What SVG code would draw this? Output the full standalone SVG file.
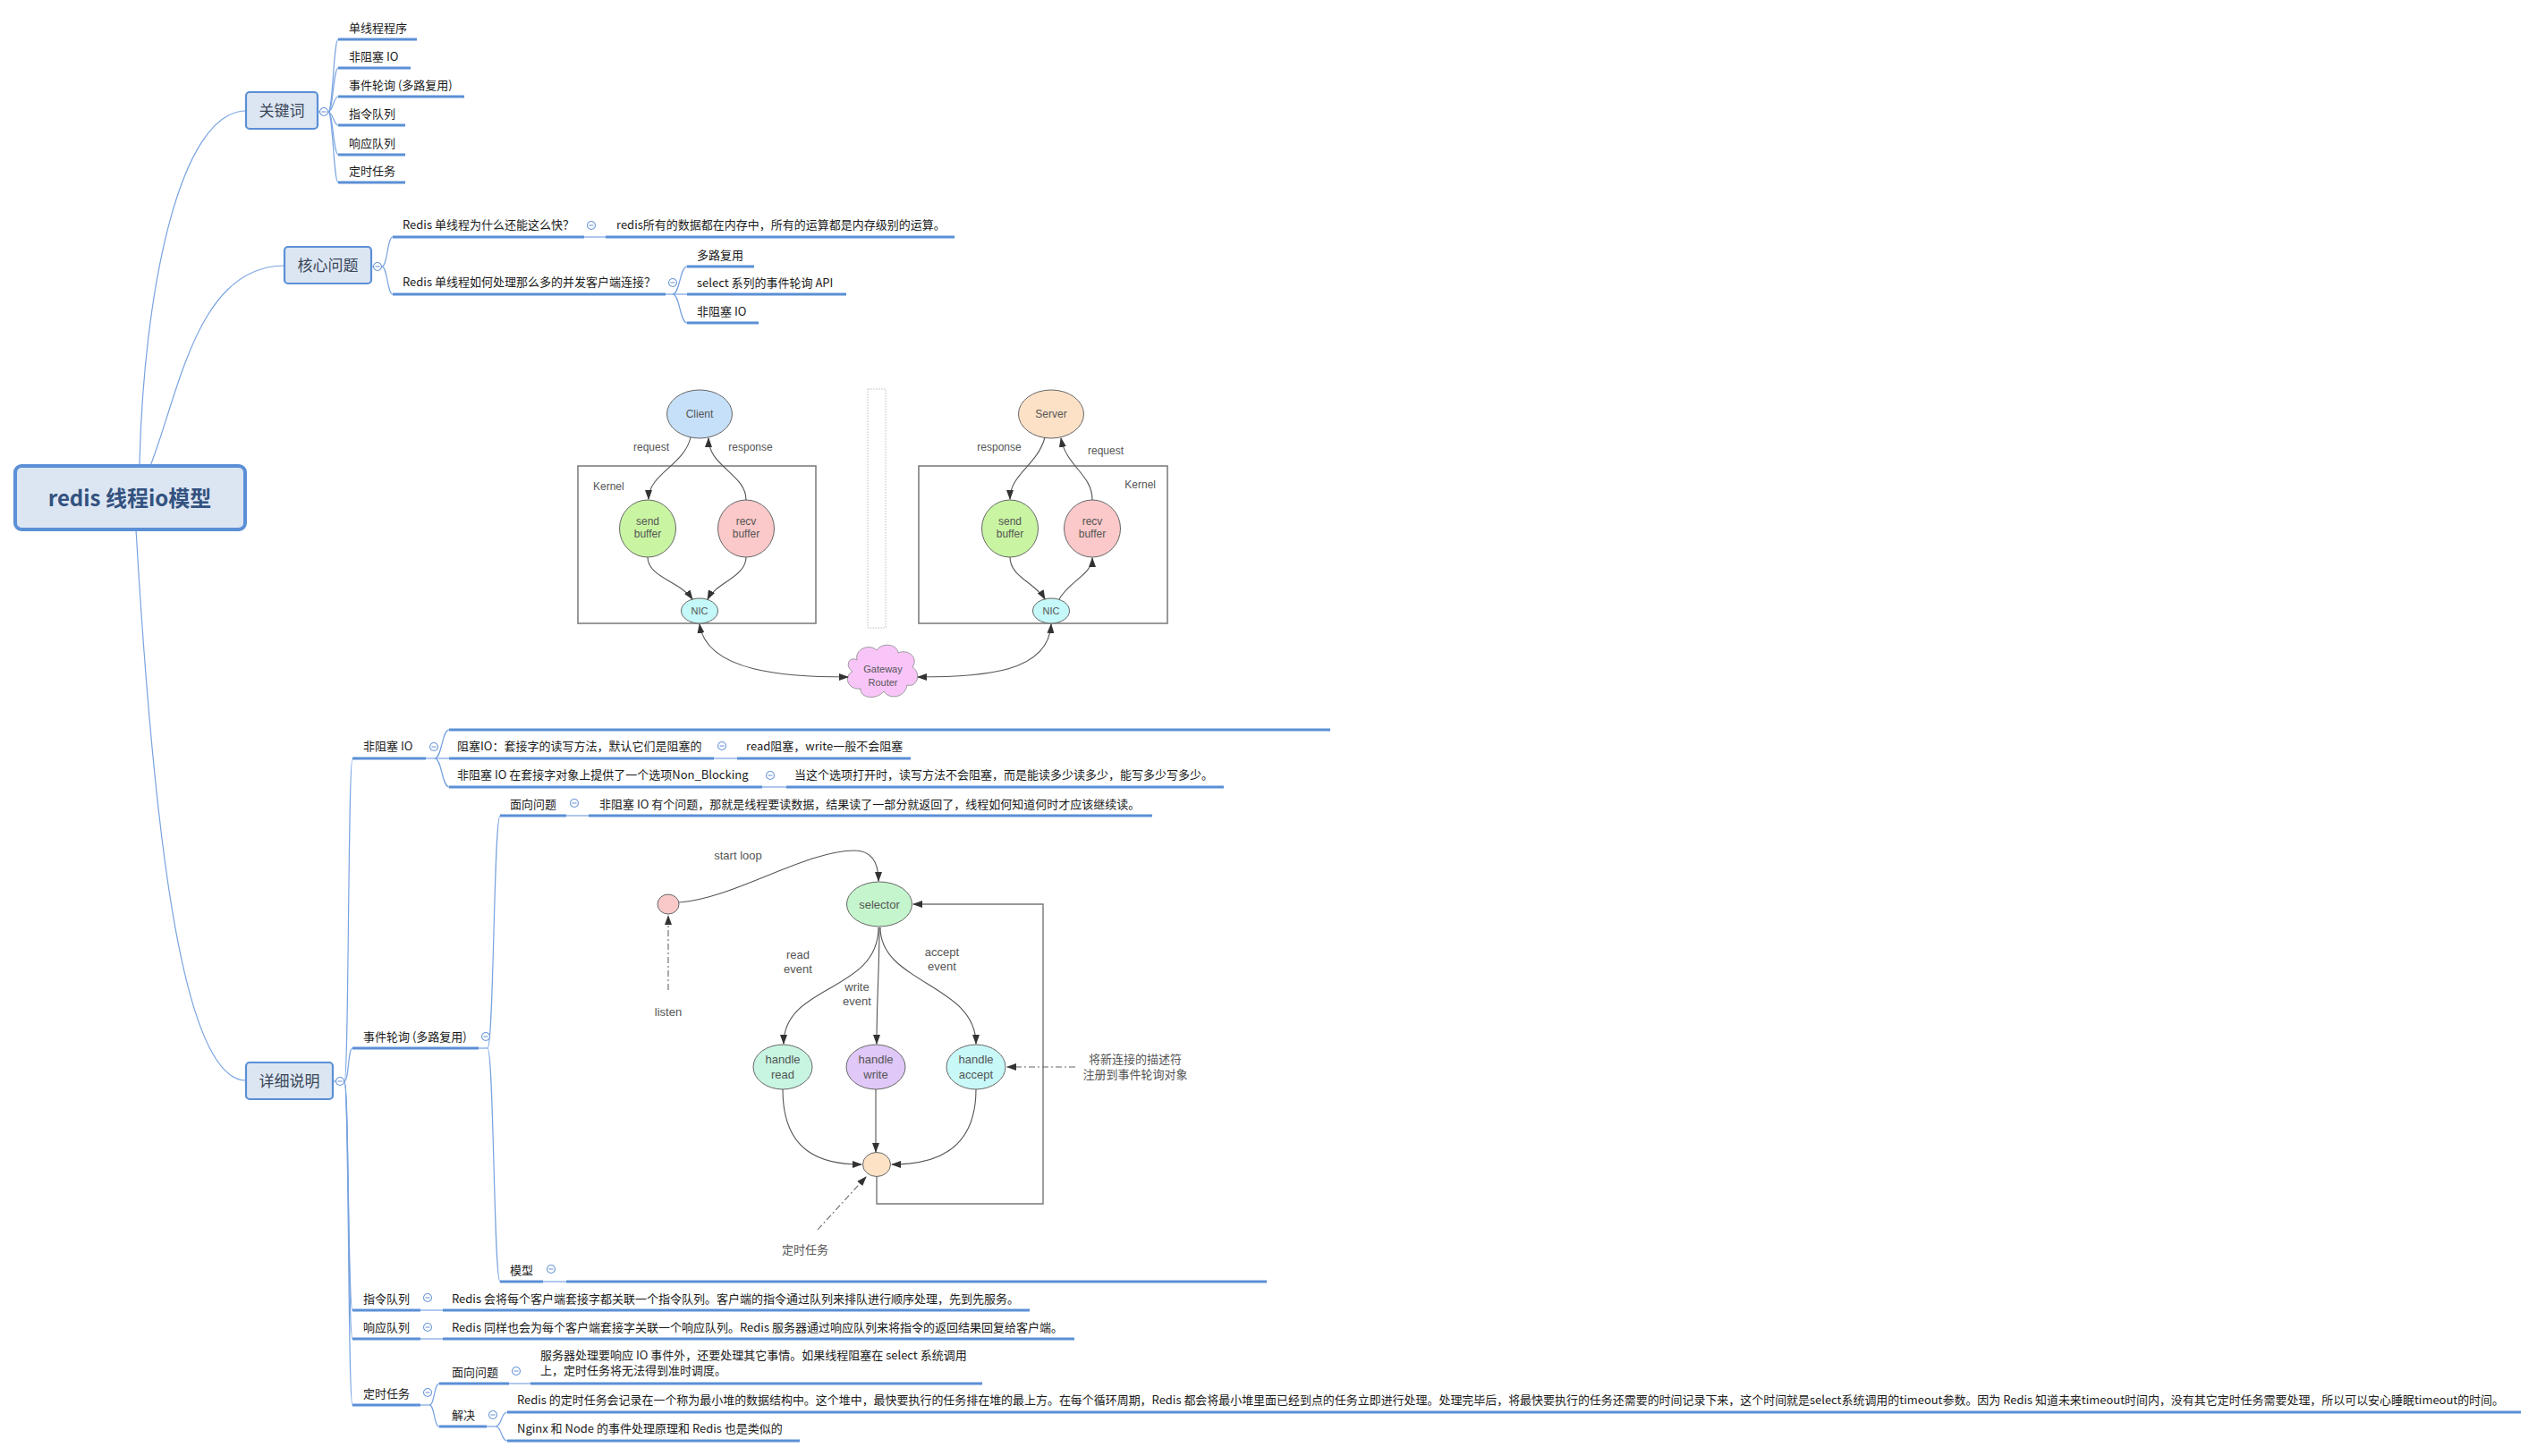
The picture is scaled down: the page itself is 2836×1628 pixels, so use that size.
<svg xmlns="http://www.w3.org/2000/svg" xmlns:xlink="http://www.w3.org/1999/xlink" width="2836" height="1628" viewBox="0 0 2836 1628">
<defs>
<style>
.ul{stroke:#5b8fd6;stroke-width:3;fill:none}
.cn{stroke:#78a3e0;stroke-width:1.2;fill:none}
.t{font-family:"Noto Sans CJK SC","Liberation Sans",sans-serif;font-size:13px;fill:#1a1a1a}
.box{fill:#dce6f3;stroke:#5b8fd6;stroke-width:2.2}
.bt{font-family:"Noto Sans CJK SC","Liberation Sans",sans-serif;font-size:17px;fill:#3a4658;text-anchor:middle}
.dg{stroke:#555;fill:none;stroke-width:1.1}
.sh{stroke:#666;stroke-width:1}
.dl{font-family:"Liberation Sans","Noto Sans CJK SC",sans-serif;font-size:12px;fill:#555;text-anchor:middle}
.dl13{font-family:"Liberation Sans","Noto Sans CJK SC",sans-serif;font-size:13px;fill:#555;text-anchor:middle}
.kb{fill:none;stroke:#777;stroke-width:1.5}
.dd{stroke:#666;fill:none;stroke-width:1.1;stroke-dasharray:7 3 2 3}
</style>
<g id="col"><circle r="4.5" fill="#fff" stroke="#6f9ad8" stroke-width="1.1"/><line x1="-2.5" y1="0" x2="2.5" y2="0" stroke="#6f9ad8" stroke-width="1.1"/></g>
<marker id="ar" markerUnits="userSpaceOnUse" markerWidth="11" markerHeight="8" refX="10" refY="4" orient="auto-start-reverse"><path d="M0,0 L11,4 L0,8 Z" fill="#333"/></marker>
</defs>
<rect width="2836" height="1628" fill="#fff"/>

<g id="connectors">
<path class="cn" d="M156,521 C160,330 200,124 275,124"/>
<path class="cn" d="M168,521 C200,440 220,297 318,297"/>
<path class="cn" d="M152,592 C170,900 200,1208 275,1208"/>
<path class="cn" d="M355,125 L367,125"/>
<path class="cn" d="M367,125 C372,125 373,44 378,44"/>
<path class="cn" d="M367,125 C372,125 373,76 378,76"/>
<path class="cn" d="M367,125 C372,125 373,108 378,108"/>
<path class="cn" d="M367,125 C372,125 373,140 378,140"/>
<path class="cn" d="M367,125 C372,125 373,173 378,173"/>
<path class="cn" d="M367,125 C372,125 373,204 378,204"/>
<path class="cn" d="M415,298 L427,298"/>
<path class="cn" d="M427,298 C433,298 433,265 439,265"/>
<path class="cn" d="M427,298 C433,298 433,329 439,329"/>
<path class="cn" d="M653,265 L677,265"/>
<path class="cn" d="M744,329 L768,329"/>
<path class="cn" d="M752,329 C760,329 760,298 768,298"/>
<path class="cn" d="M752,329 C760,329 760,361 768,361"/>
<path class="cn" d="M372,1209 L385,1209"/>
<path class="cn" d="M385,1209 C390,1209 389,849 394,849"/>
<path class="cn" d="M385,1209 C390,1209 389,1172 394,1172"/>
<path class="cn" d="M385,1209 C390,1209 389,1465 394,1465"/>
<path class="cn" d="M385,1209 C390,1209 389,1497 394,1497"/>
<path class="cn" d="M385,1209 C390,1209 389,1571 394,1571"/>
<path class="cn" d="M476,848 L502,848"/>
<path class="cn" d="M486,848 C494,848 494,816 502,816"/>
<path class="cn" d="M486,848 C494,848 494,880 502,880"/>
<path class="cn" d="M798,848 L824,848"/>
<path class="cn" d="M852,880 L879,880"/>
<path class="cn" d="M535,1172 L545,1172"/>
<path class="cn" d="M545,1172 C552,1172 552,912 559,912"/>
<path class="cn" d="M545,1172 C552,1172 552,1433 559,1433"/>
<path class="cn" d="M633,912 L658,912"/>
<path class="cn" d="M607,1433 L633,1433"/>
<path class="cn" d="M470,1465 L495,1465"/>
<path class="cn" d="M470,1497 L495,1497"/>
<path class="cn" d="M470,1571 L480,1571"/>
<path class="cn" d="M480,1571 C486,1571 485,1547 491,1547"/>
<path class="cn" d="M480,1571 C486,1571 485,1595 491,1595"/>
<path class="cn" d="M569,1547 L593,1547"/>
<path class="cn" d="M544,1595 L554,1595"/>
<path class="cn" d="M554,1595 C561,1595 560,1579 567,1579"/>
<path class="cn" d="M554,1595 C561,1595 560,1611 567,1611"/>
</g>

<g id="root">
<rect x="17" y="521" width="257" height="71" rx="7" fill="#dce6f3" stroke="#5b8fd6" stroke-width="4"/>
<text x="145" y="566" text-anchor="middle" font-family="Noto Sans CJK SC,Liberation Sans,sans-serif" font-size="24" font-weight="bold" fill="#33527f">redis 线程io模型</text>
</g>

<g id="n-guanjianci">
<rect class="box" x="275" y="103" width="80" height="41" rx="4"/>
<text class="bt" x="315" y="130">关键词</text>
<use href="#col" x="362" y="125"/>
</g>
<g id="n-kw-children">
<line class="ul" x1="378" y1="44" x2="466" y2="44"/><text class="t" x="390" y="36">单线程程序</text>
<line class="ul" x1="378" y1="76" x2="459" y2="76"/><text class="t" x="390" y="68">非阻塞 IO</text>
<line class="ul" x1="378" y1="108" x2="519" y2="108"/><text class="t" x="390" y="100">事件轮询 (多路复用)</text>
<line class="ul" x1="378" y1="140" x2="453" y2="140"/><text class="t" x="390" y="132">指令队列</text>
<line class="ul" x1="378" y1="173" x2="453" y2="173"/><text class="t" x="390" y="165">响应队列</text>
<line class="ul" x1="378" y1="204" x2="453" y2="204"/><text class="t" x="390" y="196">定时任务</text>
</g>

<g id="n-hexinwenti">
<rect class="box" x="318" y="276" width="97" height="41" rx="4"/>
<text class="bt" x="366.5" y="303">核心问题</text>
<use href="#col" x="422" y="298"/>
</g>
<g id="n-q1">
<line class="ul" x1="439" y1="265" x2="653" y2="265"/><text class="t" x="450" y="256">Redis 单线程为什么还能这么快？</text>
<use href="#col" x="661" y="252"/>
<line class="ul" x1="677" y1="265" x2="1067" y2="265"/><text class="t" x="689" y="256">redis所有的数据都在内存中，所有的运算都是内存级别的运算。</text>
</g>
<g id="n-q2">
<line class="ul" x1="439" y1="329" x2="744" y2="329"/><text class="t" x="450" y="320">Redis 单线程如何处理那么多的并发客户端连接？</text>
<use href="#col" x="752" y="316"/>
<line class="ul" x1="768" y1="298" x2="843" y2="298"/><text class="t" x="779" y="290">多路复用</text>
<line class="ul" x1="768" y1="329" x2="946" y2="329"/><text class="t" x="779" y="321">select 系列的事件轮询 API</text>
<line class="ul" x1="768" y1="361" x2="848" y2="361"/><text class="t" x="779" y="353">非阻塞 IO</text>
</g>

<g id="n-xiangxi">
<rect class="box" x="275" y="1188" width="97" height="41" rx="4"/>
<text class="bt" x="323.5" y="1215">详细说明</text>
<use href="#col" x="380" y="1209"/>
</g>

<g id="n-fzs">
<line class="ul" x1="394" y1="848" x2="476" y2="848"/><text class="t" x="406" y="839">非阻塞 IO</text>
<use href="#col" x="485" y="835"/>
<line class="ul" x1="502" y1="816" x2="1487" y2="816"/>
<line class="ul" x1="502" y1="848" x2="798" y2="848"/><text class="t" x="511" y="839">阻塞IO：套接字的读写方法，默认它们是阻塞的</text>
<use href="#col" x="807" y="834"/>
<line class="ul" x1="824" y1="848" x2="1018" y2="848"/><text class="t" x="834" y="839">read阻塞，write一般不会阻塞</text>
<line class="ul" x1="502" y1="880" x2="852" y2="880"/><text class="t" x="511" y="871">非阻塞 IO 在套接字对象上提供了一个选项Non_Blocking</text>
<use href="#col" x="861" y="867"/>
<line class="ul" x1="879" y1="880" x2="1368" y2="880"/><text class="t" x="888" y="871">当这个选项打开时，读写方法不会阻塞，而是能读多少读多少，能写多少写多少。</text>
</g>

<g id="img-client-server">
<rect x="970" y="435" width="20" height="267" fill="none" stroke="#bbb" stroke-width="1" stroke-dasharray="1.5 1.5"/>
<rect class="kb" x="646" y="521" width="266" height="176"/>
<rect class="kb" x="1027" y="521" width="278" height="176"/>
<text class="dl" x="663" y="548" style="text-anchor:start">Kernel</text>
<text class="dl" x="1292" y="546" style="text-anchor:end">Kernel</text>
<ellipse class="sh" cx="782" cy="463" rx="36.5" ry="27" fill="#c6e0f9"/>
<text class="dl" x="782" y="467">Client</text>
<ellipse class="sh" cx="1175" cy="463" rx="36.5" ry="27" fill="#fde1c7"/>
<text class="dl" x="1175" y="467">Server</text>
<ellipse class="sh" cx="724" cy="591" rx="31.5" ry="32" fill="#c9f5a3"/>
<text class="dl" x="724" y="587">send</text><text class="dl" x="724" y="601">buffer</text>
<ellipse class="sh" cx="834" cy="591" rx="31.5" ry="32" fill="#fbc9c9"/>
<text class="dl" x="834" y="587">recv</text><text class="dl" x="834" y="601">buffer</text>
<ellipse class="sh" cx="1129" cy="591" rx="31.5" ry="32" fill="#c9f5a3"/>
<text class="dl" x="1129" y="587">send</text><text class="dl" x="1129" y="601">buffer</text>
<ellipse class="sh" cx="1221" cy="591" rx="31.5" ry="32" fill="#fbc9c9"/>
<text class="dl" x="1221" y="587">recv</text><text class="dl" x="1221" y="601">buffer</text>
<ellipse class="sh" cx="782" cy="683" rx="20.5" ry="14" fill="#c5f8f8"/>
<text class="dl" x="782" y="687" style="font-size:11px">NIC</text>
<ellipse class="sh" cx="1175" cy="683" rx="20.5" ry="14" fill="#c5f8f8"/>
<text class="dl" x="1175" y="687" style="font-size:11px">NIC</text>
<path d="M958,738 C955,726 972,719 980,727 C986,718 1003,720 1004,730 C1016,725 1027,736 1020,746 C1030,752 1026,769 1014,766 C1012,780 994,783 988,773 C980,783 961,781 962,770 C948,772 942,756 953,751 C944,745 949,733 958,738 Z" fill="#f9c5f9" stroke="#999" stroke-width="1"/>
<text class="dl" x="987" y="752" style="font-size:11px">Gateway</text>
<text class="dl" x="987" y="767" style="font-size:11px">Router</text>
<text class="dl" x="728" y="504">request</text>
<text class="dl" x="839" y="504">response</text>
<text class="dl" x="1117" y="504">response</text>
<text class="dl" x="1236" y="508">request</text>
<path class="dg" marker-end="url(#ar)" d="M772,489 C765,520 725,530 725,558"/>
<path class="dg" marker-end="url(#ar)" d="M834,559 C834,530 792,522 792,490"/>
<path class="dg" marker-end="url(#ar)" d="M724,623 C724,645 760,650 774,670"/>
<path class="dg" marker-end="url(#ar)" d="M834,623 C834,645 800,652 791,670"/>
<path class="dg" marker-start="url(#ar)" marker-end="url(#ar)" d="M782,698 C790,752 880,757 948,757"/>
<path class="dg" marker-start="url(#ar)" marker-end="url(#ar)" d="M1026,757 C1100,757 1172,752 1175,698"/>
<path class="dg" marker-end="url(#ar)" d="M1168,489 C1160,520 1129,530 1129,558"/>
<path class="dg" marker-end="url(#ar)" d="M1221,559 C1221,530 1192,522 1186,490"/>
<path class="dg" marker-end="url(#ar)" d="M1129,623 C1129,645 1158,652 1168,670"/>
<path class="dg" marker-end="url(#ar)" d="M1184,670 C1195,650 1221,642 1221,624"/>
</g>

<g id="n-lunxun">
<line class="ul" x1="394" y1="1172" x2="535" y2="1172"/><text class="t" x="406" y="1164">事件轮询 (多路复用)</text>
<use href="#col" x="543" y="1159"/>
<line class="ul" x1="559" y1="912" x2="633" y2="912"/><text class="t" x="570" y="904">面向问题</text>
<use href="#col" x="642" y="898"/>
<line class="ul" x1="658" y1="912" x2="1288" y2="912"/><text class="t" x="670" y="904">非阻塞 IO 有个问题，那就是线程要读数据，结果读了一部分就返回了，线程如何知道何时才应该继续读。</text>
<line class="ul" x1="559" y1="1433" x2="607" y2="1433"/><text class="t" x="570" y="1425">模型</text>
<use href="#col" x="616" y="1419"/>
<line class="ul" x1="633" y1="1433" x2="1416" y2="1433"/>
</g>

<g id="img-event-loop">
<path fill="none" stroke="#777" stroke-width="1.4" marker-end="url(#ar)" d="M980,1316 L980,1346 L1166,1346 L1166,1011 L1021,1011"/>
<ellipse class="sh" cx="747" cy="1011" rx="12" ry="11" fill="#f9c9c9"/>
<ellipse class="sh" cx="983" cy="1011" rx="36.5" ry="25" fill="#c5f5cc"/>
<text class="dl13" x="983" y="1016">selector</text>
<ellipse class="sh" cx="875" cy="1193" rx="33" ry="25" fill="#c7f5e2"/>
<text class="dl13" x="875" y="1189">handle</text><text class="dl13" x="875" y="1206">read</text>
<ellipse class="sh" cx="979" cy="1193" rx="33" ry="25" fill="#e0c8f8"/>
<text class="dl13" x="979" y="1189">handle</text><text class="dl13" x="979" y="1206">write</text>
<ellipse class="sh" cx="1091" cy="1193" rx="33" ry="25" fill="#c8f8f8"/>
<text class="dl13" x="1091" y="1189">handle</text><text class="dl13" x="1091" y="1206">accept</text>
<ellipse class="sh" cx="980" cy="1302" rx="15.5" ry="13.5" fill="#fde2c6"/>
<text class="dl13" x="825" y="961">start loop</text>
<text class="dl13" x="747" y="1136">listen</text>
<text class="dl13" x="892" y="1072">read</text><text class="dl13" x="892" y="1088">event</text>
<text class="dl13" x="958" y="1108">write</text><text class="dl13" x="958" y="1124">event</text>
<text class="dl13" x="1053" y="1069">accept</text><text class="dl13" x="1053" y="1085">event</text>
<text class="dl13" x="1269" y="1189">将新连接的描述符</text>
<text class="dl13" x="1269" y="1206">注册到事件轮询对象</text>
<text class="dl13" x="900" y="1402">定时任务</text>
<path class="dg" marker-end="url(#ar)" d="M759,1009 C820,1005 900,951 955,951 C975,951 982,965 982,985"/>
<path class="dg" marker-end="url(#ar)" d="M982,1037 C982,1110 876,1100 876,1167"/>
<path class="dg" marker-end="url(#ar)" d="M983,1037 C983,1080 980,1120 980,1167"/>
<path class="dg" marker-end="url(#ar)" d="M984,1037 C984,1100 1091,1100 1091,1167"/>
<path class="dg" marker-end="url(#ar)" d="M875,1218 C875,1290 920,1302 963,1302"/>
<path class="dg" marker-end="url(#ar)" d="M979,1218 L979,1288"/>
<path class="dg" marker-end="url(#ar)" d="M1091,1218 C1091,1290 1040,1302 997,1302"/>
<path class="dd" marker-end="url(#ar)" d="M747,1107 L747,1024"/>
<path class="dd" marker-end="url(#ar)" d="M1202,1193 L1126,1193"/>
<path class="dd" marker-end="url(#ar)" d="M914,1375 L968,1316"/>
</g>

<g id="n-queues">
<line class="ul" x1="394" y1="1465" x2="470" y2="1465"/><text class="t" x="406" y="1457">指令队列</text>
<use href="#col" x="478" y="1451"/>
<line class="ul" x1="495" y1="1465" x2="1151" y2="1465"/><text class="t" x="505" y="1457">Redis 会将每个客户端套接字都关联一个指令队列。客户端的指令通过队列来排队进行顺序处理，先到先服务。</text>
<line class="ul" x1="394" y1="1497" x2="470" y2="1497"/><text class="t" x="406" y="1489">响应队列</text>
<use href="#col" x="478" y="1484"/>
<line class="ul" x1="495" y1="1497" x2="1201" y2="1497"/><text class="t" x="505" y="1489">Redis 同样也会为每个客户端套接字关联一个响应队列。Redis 服务器通过响应队列来将指令的返回结果回复给客户端。</text>
</g>

<g id="n-timer">
<line class="ul" x1="394" y1="1571" x2="470" y2="1571"/><text class="t" x="406" y="1563">定时任务</text>
<use href="#col" x="478" y="1557"/>
<line class="ul" x1="491" y1="1547" x2="569" y2="1547"/><text class="t" x="505" y="1539">面向问题</text>
<use href="#col" x="577" y="1533"/>
<line class="ul" x1="593" y1="1547" x2="1098" y2="1547"/>
<text class="t" x="604" y="1520">服务器处理要响应 IO 事件外，还要处理其它事情。如果线程阻塞在 select 系统调用</text>
<text class="t" x="604" y="1537">上，定时任务将无法得到准时调度。</text>
<line class="ul" x1="491" y1="1595" x2="544" y2="1595"/><text class="t" x="505" y="1587">解决</text>
<use href="#col" x="551" y="1582"/>
<line class="ul" x1="567" y1="1579" x2="2818" y2="1579"/><text class="t" x="578" y="1570" textLength="2221" lengthAdjust="spacingAndGlyphs">Redis 的定时任务会记录在一个称为最小堆的数据结构中。这个堆中，最快要执行的任务排在堆的最上方。在每个循环周期，Redis 都会将最小堆里面已经到点的任务立即进行处理。处理完毕后，将最快要执行的任务还需要的时间记录下来，这个时间就是select系统调用的timeout参数。因为 Redis 知道未来timeout时间内，没有其它定时任务需要处理，所以可以安心睡眠timeout的时间。</text>
<line class="ul" x1="567" y1="1611" x2="894" y2="1611"/><text class="t" x="578" y="1602">Nginx 和 Node 的事件处理原理和 Redis 也是类似的</text>
</g>
</svg>
